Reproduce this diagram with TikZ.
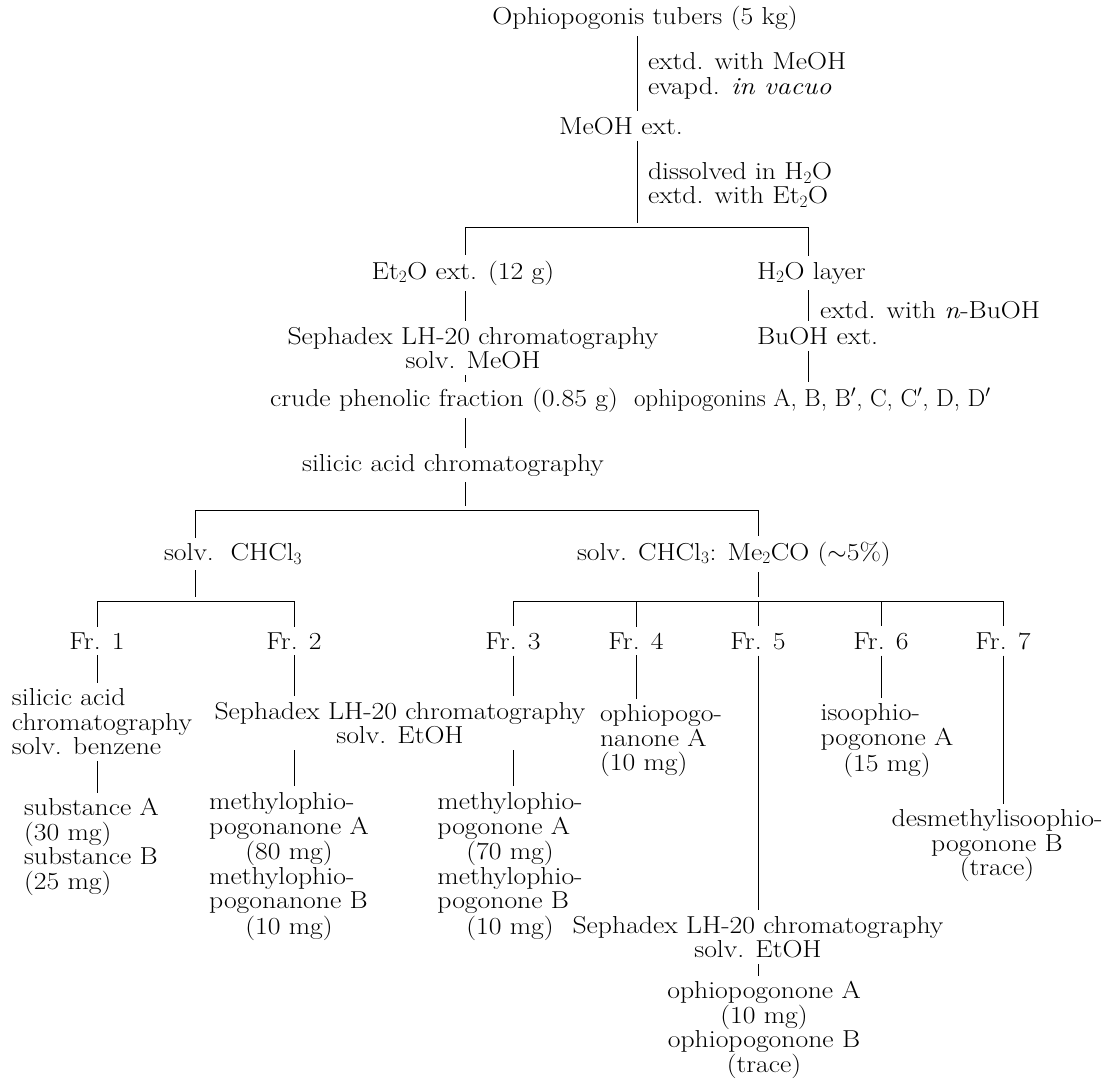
\documentclass[tikz,border=0pt]{standalone}
\usepackage{fontspec}
\setmainfont{Latin Modern Roman}[FakeStretch=1.13]
\newfontfamily\plainlm{Latin Modern Roman}[FakeStretch=1.02]
\newcommand\mcc[1]{\multicolumn{1}{@{}c@{}}{#1}}
\begin{document}
\begin{tikzpicture}[x=1pt,y=-1pt,
  every node/.style={inner sep=0pt, outer xsep=0pt, outer ysep=6pt,
    font=\fontsize{24.5}{24.5}\selectfont},
  link/.style={line width=0.8pt},
  inlink/.style={line width=0.8pt, shorten >=4pt}]
\useasboundingbox (0,0) rectangle (1110,1079);
% vertical line positions
\coordinate (v1) at (637,0);
\coordinate (j1) at (637,227);
\coordinate (j1l) at (465,227);
\coordinate (j1r) at (808,227);
\coordinate (j2) at (465,510);
\coordinate (j2l) at (195,510);
\coordinate (j2r) at (758,510);
\coordinate (j3) at (195,601);
\coordinate (j3l) at (97,601);
\coordinate (j3r) at (294,601);
\coordinate (j4) at (758,601);
\coordinate (j4a) at (513,601);
\coordinate (j4b) at (636,601);
\coordinate (j4c) at (881,601);
\coordinate (j4d) at (1003,601);
% nodes
\node (top) at (645,18) {Ophiopogonis tubers (5 kg)};
\node[anchor=west,align=left] (s1) at (648,76) {extd. with MeOH\\evapd. \textit{in vacuo}};
\node (meoh) at (621,126) {MeOH ext.};
\node[anchor=west,align=left] (s2) at (648,185) {dissolved in H$_2$O\\extd. with Et$_2$O};
\node (et2o) at (463,273) {Et$_2$O ext. (12 g)};
\node[anchor=west] (h2o) at (757,273) {H$_2$O layer};
\node[align=center] (seph1) at (473,348) {Sephadex LH-20 chromatography\\solv. MeOH};
\node[anchor=west] (s3) at (820,310) {extd. with \textit{n}-BuOH};
\node[anchor=west] (buoh) at (757,336) {BuOH ext.};
\node (crude) at (444,400) {crude phenolic fraction (0.85 g)};
\node[anchor=west] (ophg) at (634,400) {\plainlm ophipogonins A, B, B$'$, C, C$'$, D, D$'$};
\node (sil) at (453,465) {silicic acid chromatography};
\node[anchor=west] (chl) at (164,554) {solv.\ \ CHCl$_3$};
\node[anchor=west] (chlme) at (577,554) {solv. CHCl$_3$: Me$_2$CO ($\sim$5\%)};
\node (fr1) at (97,641) {Fr. 1};
\node (fr2) at (294,641) {Fr. 2};
\node (fr3) at (513,641) {Fr. 3};
\node (fr4) at (636,641) {Fr. 4};
\node (fr5) at (758,641) {Fr. 5};
\node (fr6) at (881,641) {Fr. 6};
\node (fr7) at (1003,641) {Fr. 7};
\node[anchor=west,align=left] (a1) at (12,722) {silicic acid\\chromatography\\solv. benzene};
\node[anchor=west,align=left] (a2) at (24,847) {substance A\\(30 mg)\\substance B\\(25 mg)};
\node[align=center] (seph2) at (400,723) {Sephadex LH-20 chromatography\\solv. EtOH};
\node (m2) at (289,867) {\begin{tabular}{@{}l@{}}methylophio-\\pogonanone A\\\mcc{(80 mg)}\\methylophio-\\pogonanone B\\\mcc{(10 mg)}\end{tabular}};
\node (m3) at (510,867) {\begin{tabular}{@{}l@{}}methylophio-\\pogonone A\\\mcc{(70 mg)}\\methylophio-\\pogonone B\\\mcc{(10 mg)}\end{tabular}};
\node[anchor=west,align=left] (p4) at (600,741) {ophiopogo-\\nanone A\\(10 mg)};
\node[align=center] (seph3) at (758,937) {Sephadex LH-20 chromatography\\solv. EtOH};
\node[align=center] (p5) at (764,1030) {ophiopogonone A\\(10 mg)\\ophiopogonone B\\(trace)};
\node (p6) at (887,741) {\begin{tabular}{@{}l@{}}isoophio-\\pogonone A\\\mcc{(15 mg)}\end{tabular}};
\node[align=center] (p7) at (997,846) {desmethylisoophio-\\pogonone B\\(trace)};
% connectors
\draw[link] (top.south -| v1) -- (meoh.north -| v1);
\draw[inlink] (meoh.south -| v1) -- (j1);
\draw[link] (j1l) -- (j1r);
\draw[link] (j1l) -- (et2o.north -| j1l);
\draw[link] (j1r) -- (h2o.north -| j1r);
\draw[link] (et2o.south -| j1l) -- (seph1.north -| j1l);
\draw[link] (h2o.south -| j1r) -- (buoh.north -| j1r);
\draw[link] (seph1.south -| j1l) -- (crude.north -| j1l);
\draw[link] (buoh.south -| j1r) -- (ophg.north -| j1r);
\draw[link] (crude.south -| j1l) -- (sil.north -| j1l);
\draw[inlink] (sil.south -| j2) -- (j2);
\draw[link] (j2l) -- (j2r);
\draw[link] (j2l) -- (chl.north -| j2l);
\draw[link] (j2r) -- (chlme.north -| j2r);
\draw[inlink] (chl.south -| j3) -- (j3);
\draw[inlink] (chlme.south -| j4) -- (j4);
\draw[link] (j3l) -- (j3r);
\draw[link] (j4a) -- (j4d);
\draw[link] (j3l) -- (fr1.north);
\draw[link] (j3r) -- (fr2.north);
\draw[link] (j4a) -- (fr3.north);
\draw[link] (j4b) -- (fr4.north);
\draw[link] (j4) -- (fr5.north);
\draw[link] (j4c) -- (fr6.north);
\draw[link] (j4d) -- (fr7.north);
\draw[link] (fr1.south) -- (a1.north -| fr1);
\draw[link] (a1.south -| fr1) -- (a2.north -| fr1);
\draw[link] (fr2.south) -- (seph2.north -| fr2);
\draw[link] (seph2.south -| fr2) -- (m2.north -| fr2);
\draw[link] (fr3.south) -- (seph2.north -| fr3);
\draw[link] (seph2.south -| fr3) -- (m3.north -| fr3);
\draw[link] (fr4.south) -- (p4.north -| fr4);
\draw[link] (fr5.south) -- (seph3.north -| fr5);
\draw[link] (seph3.south -| fr5) -- (p5.north -| fr5);
\draw[link] (fr6.south) -- (p6.north -| fr6);
\draw[link] (fr7.south) -- (p7.north -| fr7);
\end{tikzpicture}
\end{document}
